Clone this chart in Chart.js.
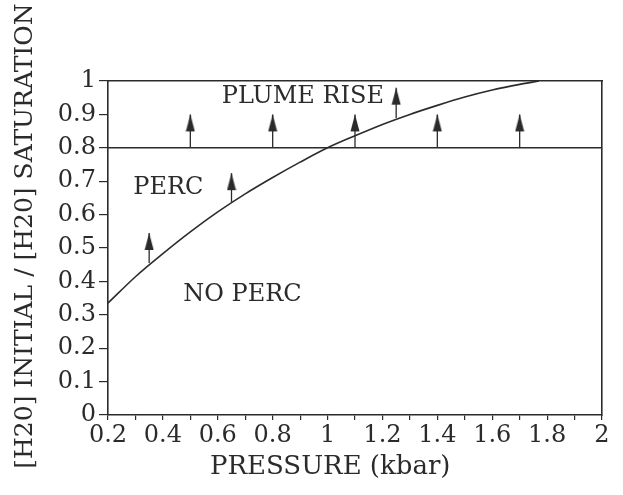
<!DOCTYPE html>
<html lang="en">
<head>
  <meta charset="UTF-8">
  <title>Percolation vs pressure</title>
  <script src="https://cdn.jsdelivr.net/npm/chart.js"></script>
  <style>
    body {
      margin: 0;
      background: #ffffff;
    }
    #chart {
      display: block;
    }
  </style>
</head>
<body>
  <canvas id="chart" width="623" height="495"></canvas>

  <script>
    // curve
    const pressure = [0.2, 0.3, 0.4, 0.5, 0.6, 0.7, 0.8, 0.9, 1.0, 1.1, 1.2, 1.3, 1.4, 1.5, 1.6, 1.7, 1.77];
    const ratio = [0.335, 0.414, 0.483, 0.548, 0.608, 0.662, 0.711, 0.757, 0.80, 0.836, 0.870, 0.900, 0.927, 0.952, 0.973, 0.99, 1.0];

    // horizontal threshold line
    const thresholdX = [0.2, 2];
    const thresholdY = [0.8, 0.8];

    // arrows: x position, start value, tip value
    const arrowX = [0.35, 0.5, 0.65, 0.8, 1.1, 1.25, 1.4, 1.7];
    const arrowFrom = [0.455, 0.8, 0.638, 0.8, 0.8, 0.889, 0.8, 0.8];
    const arrowTo = [0.545, 0.9, 0.724, 0.9, 0.9, 0.98, 0.9, 0.9];

    // region labels
    const noteText = ['PLUME RISE', 'PERC', 'NO PERC'];
    const noteX = [0.91, 0.42, 0.69];
    const noteY = [0.952, 0.68, 0.36];

    const ink = '#2b2b2b';
    const pad = n => '\u00a0'.repeat(n);
    Chart.defaults.font.family = "'DejaVu Serif', serif";
    Chart.defaults.color = ink;

    // narrow filled arrow head, tip sits at the canvas centre
    function makeHead() {
      const c = document.createElement('canvas');
      c.width = 10;
      c.height = 36;
      const g = c.getContext('2d');
      g.fillStyle = ink;
      g.beginPath();
      g.moveTo(5, 18);
      g.lineTo(9.5, 35);
      g.lineTo(0.5, 35);
      g.closePath();
      g.fill();
      return c;
    }
    const head = makeHead();

    const datasets = [];
    datasets.push({
      data: pressure.map((p, i) => ({ x: p, y: ratio[i] })),
      showLine: true,
      borderColor: ink,
      borderWidth: 1.6,
      pointRadius: 0,
      cubicInterpolationMode: 'monotone'
    });
    datasets.push({
      data: thresholdX.map((p, i) => ({ x: p, y: thresholdY[i] })),
      showLine: true,
      borderColor: ink,
      borderWidth: 1.6,
      pointRadius: 0
    });
    arrowX.forEach((p, i) => {
      datasets.push({
        data: [{ x: p, y: arrowFrom[i] }, { x: p, y: arrowTo[i] }],
        showLine: true,
        borderColor: ink,
        borderWidth: 1.3,
        pointRadius: 0
      });
    });
    datasets.push({
      data: arrowX.map((p, i) => ({ x: p, y: arrowTo[i] })),
      showLine: false,
      pointStyle: head,
      pointRadius: 5
    });

    const notes = {
      id: 'notes',
      afterDatasetsDraw(chart) {
        const { ctx, scales } = chart;
        ctx.save();
        ctx.font = "24px 'DejaVu Serif', serif";
        ctx.fillStyle = ink;
        ctx.textAlign = 'center';
        ctx.textBaseline = 'middle';
        noteText.forEach((t, i) => {
          ctx.fillText(t, scales.x.getPixelForValue(noteX[i]), scales.y.getPixelForValue(noteY[i]));
        });
        ctx.restore();
      }
    };

    const tenth = v => Math.round(v * 10);

    new Chart(document.getElementById('chart'), {
      type: 'scatter',
      data: { datasets },
      plugins: [notes],
      options: {
        responsive: false,
        animation: false,
        events: [],
        layout: { padding: { top: 81, right: 21, left: 0, bottom: 0 } },
        plugins: {
          legend: { display: false },
          tooltip: { enabled: false }
        },
        scales: {
          x: {
            type: 'linear',
            min: 0.2,
            max: 2,
            afterFit: s => { s.height = 80; },
            ticks: {
              stepSize: 0.1,
              autoSkip: false,
              maxRotation: 0,
              padding: 1,
              font: { size: 24 },
              color: ink,
              callback: v => (tenth(v) % 2 === 0 ? String(tenth(v) / 10) : '')
            },
            grid: { drawOnChartArea: false, tickLength: 5, color: ink, lineWidth: 1.2 },
            border: { color: ink, width: 1.6 },
            title: {
              display: true,
              // trailing blanks pull the title towards the 1 kbar mark as in the figure
              text: 'PRESSURE (kbar)' + pad(6),
              font: { size: 26 },
              color: ink,
              padding: { top: 0, bottom: 12 }
            }
          },
          x2: {
            type: 'linear',
            position: 'top',
            min: 0.2,
            max: 2,
            afterFit: s => { s.height = 0; },
            ticks: { display: false },
            grid: { drawOnChartArea: false, drawTicks: false },
            border: { color: ink, width: 1.6 }
          },
          y: {
            min: 0,
            max: 1,
            afterFit: s => { s.width = 108; },
            ticks: {
              stepSize: 0.1,
              autoSkip: false,
              padding: 3,
              font: { size: 24 },
              color: ink,
              callback: v => String(tenth(v) / 10)
            },
            grid: { drawOnChartArea: false, tickLength: 9, color: ink, lineWidth: 1.2 },
            border: { color: ink, width: 1.6 },
            title: {
              display: true,
              text: pad(3) + '[H20] INITIAL / [H20] SATURATION',
              font: { size: 25 },
              color: ink,
              padding: { top: 10, bottom: 0 }
            }
          },
          y2: {
            position: 'right',
            min: 0,
            max: 1,
            afterFit: s => { s.width = 0; },
            ticks: { display: false },
            grid: { drawOnChartArea: false, drawTicks: false },
            border: { color: ink, width: 1.6 }
          }
        }
      }
    });
  </script>
</body>
</html>
